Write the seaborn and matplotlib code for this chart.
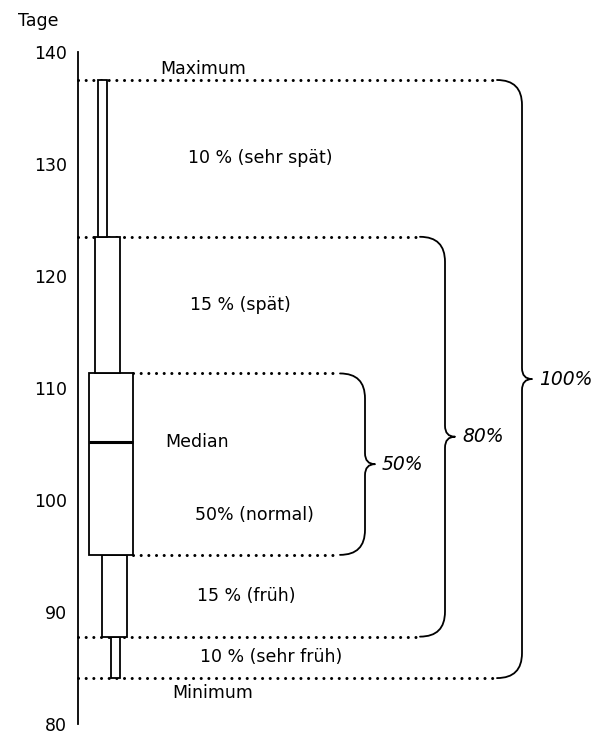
import matplotlib
matplotlib.use("Agg")
import matplotlib.pyplot as plt
from matplotlib.path import Path
from matplotlib.patches import PathPatch
import seaborn as sns

# ---- data (days) ----
stufen = ["Minimum", "10%", "25%", "Median", "75%", "90%", "Maximum"]
tage = [84.1, 87.8, 95.1, 105.2, 111.3, 123.5, 137.5]
yticks = [80, 90, 100, 110, 120, 130, 140]
segment_labels = ["10 % (sehr früh)", "15 % (früh)", "50% (normal)", "15 % (spät)", "10 % (sehr spät)"]
brace_labels = ["50%", "80%", "100%"]
axis_title = "Tage"

sns.set_theme(style="white")
plt.rcParams["font.family"] = ["DejaVu Sans"]
plt.rcParams["text.color"] = "black"
plt.rcParams["ytick.color"] = "black"

vmin, p10, q1, med, q3, p90, vmax = tage

fig = plt.figure(figsize=(6.03, 7.35), dpi=100)
top_px, bot_px = 52, 724
ax = fig.add_axes([0, (735 - bot_px) / 735, 1, (bot_px - top_px) / 735])
ax.set_xlim(0, 603)
ax.set_ylim(80, 140)
k = (bot_px - top_px) / 60.0  # pixels per day
AX_X = 78
FS = 12.5
LW = 1.3

# axis styling
for s in ["top", "right", "bottom"]:
    ax.spines[s].set_visible(False)
ax.spines["left"].set_position(("data", AX_X))
ax.spines["left"].set_linewidth(LW)
ax.spines["left"].set_color("black")
ax.set_xticks([])
ax.set_yticks(yticks)
ax.set_yticklabels([str(t) for t in yticks], fontsize=FS)
ax.tick_params(axis="y", length=0, pad=8, colors="black")
ax.set_facecolor("white")
ax.text(38, 140 + 31 / k, axis_title, ha="center", va="center", fontsize=FS, clip_on=False)

# boxes (center px, width px) for successive segments
geo = [(115, 9), (114.5, 25), (111, 44), (107.5, 25), (102.5, 9)]
bounds = [(vmin, p10), (p10, q1), (q1, q3), (q3, p90), (p90, vmax)]
for (cx, w), (lo, hi) in zip(geo, bounds):
    ax.bar(cx, hi - lo, bottom=lo, width=w, facecolor="white", edgecolor="black",
           linewidth=LW, zorder=3)
ax.hlines(med, 111 - 22, 111 + 22, color="black", linewidth=LW * 1.7, zorder=4)

# dotted reference lines
dot = dict(color="black", linewidth=2.2, linestyle=(0, (0.01, 2.5)),
           dash_capstyle="round", zorder=2)
x_q_start = 133
brace_x0 = {"50%": 340, "80%": 420, "100%": 497}
ax.plot([AX_X, brace_x0["100%"]], [vmax, vmax], **dot)
ax.plot([AX_X, brace_x0["100%"]], [vmin, vmin], **dot)
ax.plot([AX_X, brace_x0["80%"]], [p90, p90], **dot)
ax.plot([AX_X, brace_x0["80%"]], [p10, p10], **dot)
ax.plot([x_q_start, brace_x0["50%"]], [q3, q3], **dot)
ax.plot([x_q_start, brace_x0["50%"]], [q1, q1], **dot)


def brace(x0, yt, yb, label, r=25, t=10, s=11):
    ym = (yt + yb) / 2
    xv = x0 + r
    verts = [(x0, yt), (xv, yt), (xv, yt - r / k),
             (xv, ym + s / k),
             (xv, ym), (xv + t, ym),
             (xv, ym), (xv, ym - s / k),
             (xv, yb + r / k),
             (xv, yb), (x0, yb)]
    codes = [Path.MOVETO, Path.CURVE3, Path.CURVE3,
             Path.LINETO,
             Path.CURVE3, Path.CURVE3,
             Path.CURVE3, Path.CURVE3,
             Path.LINETO,
             Path.CURVE3, Path.CURVE3]
    ax.add_patch(PathPatch(Path(verts, codes), facecolor="none", edgecolor="black",
                           linewidth=LW, zorder=3, capstyle="round", joinstyle="round"))
    ax.text(xv + t + 7, ym, label, ha="left", va="center", fontsize=FS + 1,
            style="italic")


brace(brace_x0["50%"], q3, q1, brace_labels[0])
brace(brace_x0["80%"], p90, p10, brace_labels[1])
brace(brace_x0["100%"], vmax, vmin, brace_labels[2])

# segment texts
ax.text(160, vmax + 1.0, stufen[6], ha="left", va="center", fontsize=FS)
ax.text(188, (p90 + vmax) / 2, segment_labels[4], ha="left", va="center", fontsize=FS)
ax.text(190, (q3 + p90) / 2, segment_labels[3], ha="left", va="center", fontsize=FS)
ax.text(165, med, stufen[3], ha="left", va="center", fontsize=FS)
ax.text(195, q1 + 3.6, segment_labels[2], ha="left", va="center", fontsize=FS)
ax.text(197, (p10 + q1) / 2, segment_labels[1], ha="left", va="center", fontsize=FS)
ax.text(200, (vmin + p10) / 2, segment_labels[0], ha="left", va="center", fontsize=FS)
ax.text(172, vmin - 1.35, stufen[0], ha="left", va="center", fontsize=FS)

fig.savefig("out.png", dpi=100, facecolor="white")
